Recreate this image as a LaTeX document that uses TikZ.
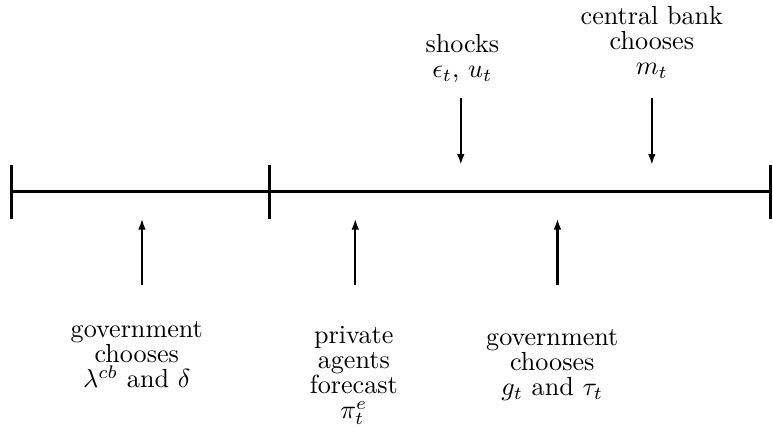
\documentclass[tikz,border=0pt]{standalone}
\usepackage{amsmath,amssymb}
\usepackage{tikz}
\usetikzlibrary{arrows.meta,positioning}

\begin{document}
\begin{tikzpicture}[
  timeline/.style={line width=1.15pt},
  tickmark/.style={line width=1.15pt},
  arrow/.style={-{Latex[length=4.2pt,width=2.9pt]},line width=0.8pt},
  event/.style={align=center,anchor=north,inner sep=0pt,
    font=\fontsize{10}{9.6}\selectfont}
]
\useasboundingbox (-0.16,-3.30) rectangle (10.24,2.58);

% time line and period marks
\coordinate (t0) at (0,0);
\coordinate (t1) at (3.46,0);
\coordinate (t2) at (10.20,0);
\draw[timeline] (t0) -- (t2);
\foreach \t in {t0,t1,t2}
  \draw[tickmark] ([yshift=-0.36cm]\t) -- ([yshift=0.36cm]\t);

% events below the line
\coordinate (govcbfoot) at (1.75,-1.26);
\coordinate (govcbtip) at (1.75,-0.36);
\coordinate (agentsfoot) at (4.62,-1.26);
\coordinate (agentstip) at (4.62,-0.36);
\coordinate (govfiscfoot) at (7.34,-1.26);
\coordinate (govfisctip) at (7.34,-0.36);

% events above the line
\coordinate (shocksfoot) at (6.04,1.26);
\coordinate (shockstip) at (6.04,0.36);
\coordinate (cbankfoot) at (8.61,1.26);
\coordinate (cbanktip) at (8.61,0.36);

\node[event] (govcb) at (1.68,-1.74) {government\\ chooses\\ $\lambda^{cb}$ and $\delta$};
\node[event] (agents) at (4.60,-1.80) {private\\ agents\\ forecast\\ $\pi^e_t$};
\node[event] (govfisc) at (7.27,-1.84) {government\\ chooses\\ $g_t$ and $\tau_t$};
\node[event] (shocks) at (6.06,2.13) {shocks\\ $\epsilon_t$, $u_t$};
\node[event] (cbank) at (8.61,2.50) {central bank\\ chooses\\ $m_t$};

\draw[arrow] (govcbfoot) -- (govcbtip);
\draw[arrow] (agentsfoot) -- (agentstip);
\draw[arrow] (govfiscfoot) -- (govfisctip);
\draw[arrow] (shocksfoot) -- (shockstip);
\draw[arrow] (cbankfoot) -- (cbanktip);
\end{tikzpicture}
\end{document}
